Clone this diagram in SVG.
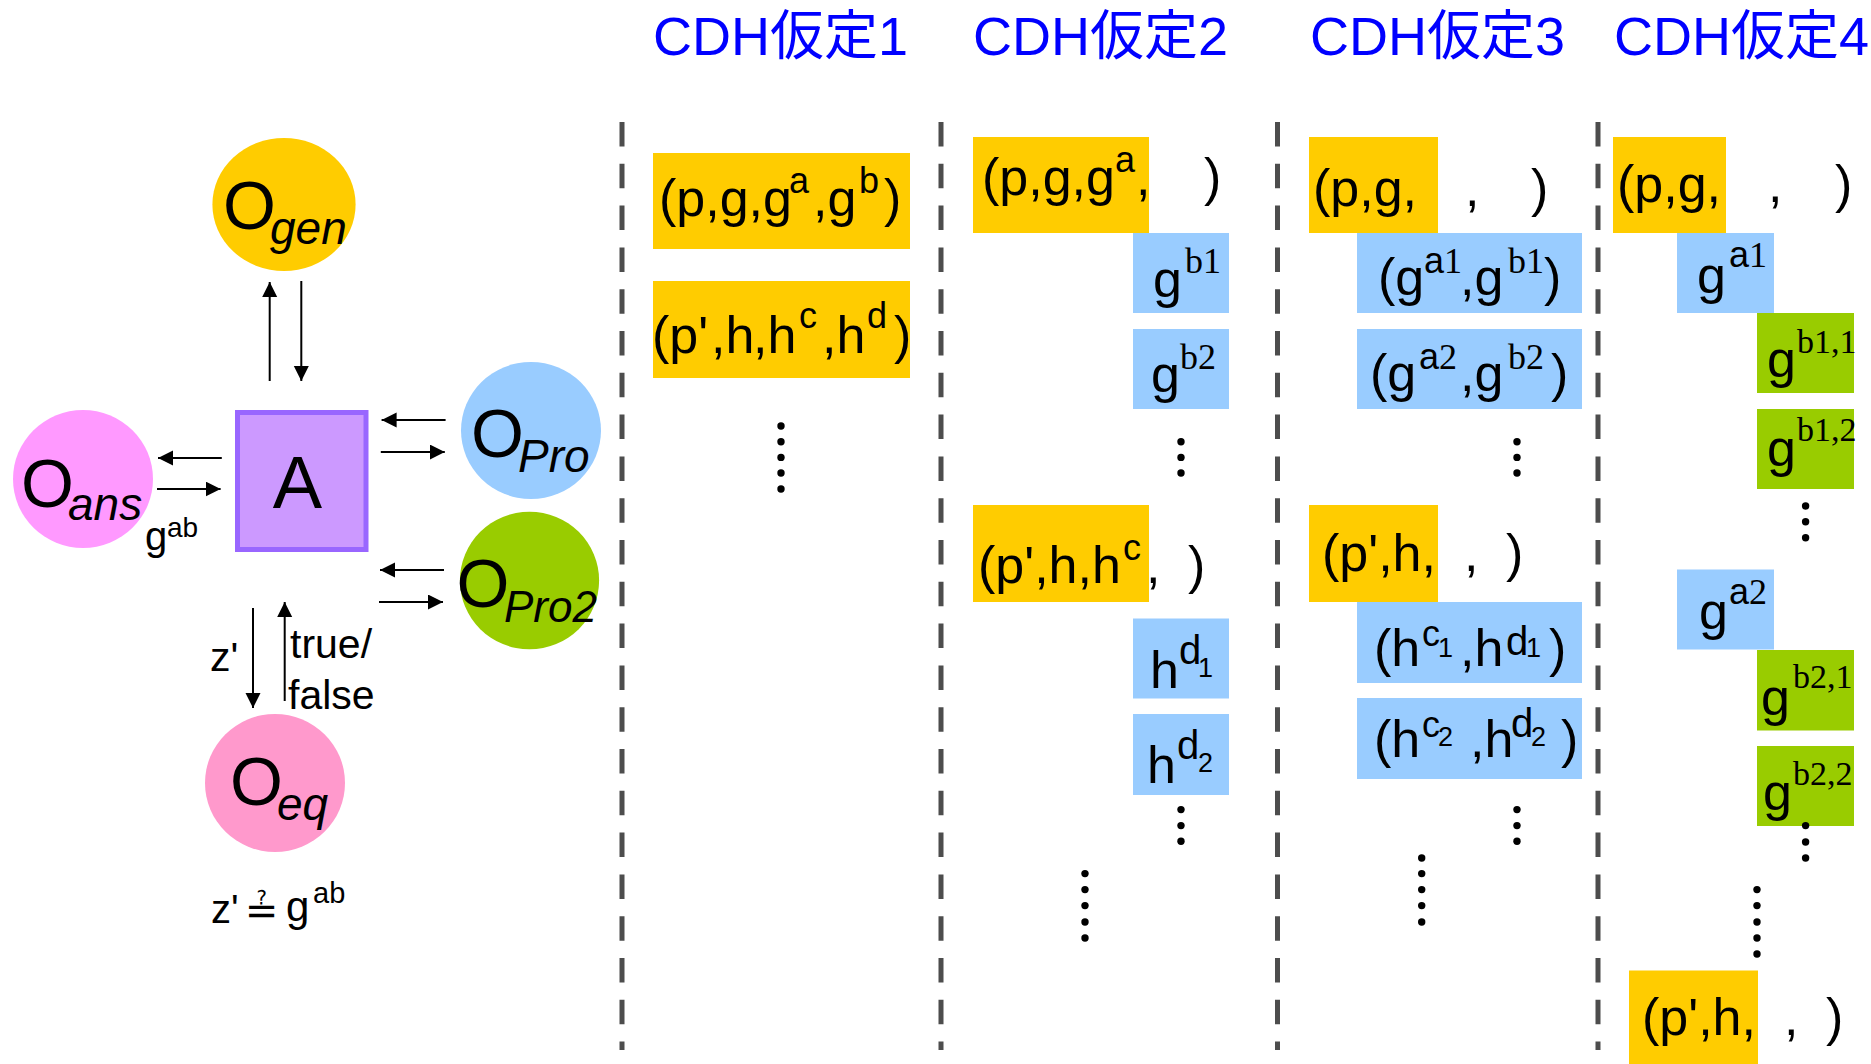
<svg xmlns="http://www.w3.org/2000/svg" width="1871" height="1064" viewBox="0 0 1871 1064">
<defs>
<style>
.t{font-family:"Liberation Sans","Noto Sans CJK JP",sans-serif;font-size:54px;fill:#0000FF}
.m{font-family:"Liberation Sans",sans-serif;font-size:52px;fill:#000}
.s{font-size:36px}
.sb{font-size:27px}
.sr{font-family:"Liberation Serif",serif;font-size:36px}
.o{font-family:"Liberation Sans",sans-serif;font-size:68px;fill:#000}
.sub{font-size:46px;font-style:italic}
.lbl{font-family:"Liberation Sans",sans-serif;font-size:41px;fill:#000}
.y{fill:#FFCC00}.b{fill:#99CCFF}.g{fill:#99CC00}
.dash{stroke:#4D4D4D;stroke-width:5;stroke-dasharray:24.5 17.3;fill:none}
.conn line{stroke:#000;stroke-width:2;marker-end:url(#ah)}
.dots circle{fill:#000}
</style>
<marker id="ah" markerWidth="16" markerHeight="16" refX="15" refY="7.5" orient="auto" markerUnits="userSpaceOnUse"><path d="M0,0 L15,7.5 L0,15 z" fill="#000"/></marker>
</defs>
<rect width="1871" height="1064" fill="#fff"/>

<g id="titles">
<text class="t" x="653" y="55">CDH仮定1</text>
<text class="t" x="973" y="55">CDH仮定2</text>
<text class="t" x="1310" y="55">CDH仮定3</text>
<text class="t" x="1614" y="55">CDH仮定4</text>
</g>

<g id="separators">
<line class="dash" x1="622" y1="122" x2="622" y2="1050"/>
<line class="dash" x1="941" y1="122" x2="941" y2="1050"/>
<line class="dash" x1="1277.5" y1="122" x2="1277.5" y2="1050"/>
<line class="dash" x1="1598" y1="122" x2="1598" y2="1050"/>
</g>

<g id="node-Ogen"><ellipse cx="284" cy="204.5" rx="71.6" ry="66.5" fill="#FFCC00"/><text class="o" x="223" y="229">O<tspan class="sub" x="270" y="244">gen</tspan></text></g>
<g id="node-A"><rect x="237.5" y="412.5" width="128.5" height="137" fill="#CC99FF" stroke="#9966FF" stroke-width="5"/><text class="o" x="297.5" y="508" text-anchor="middle" style="font-size:74px">A</text></g>
<g id="node-Oans"><ellipse cx="83" cy="479" rx="70" ry="69" fill="#FF99FF"/><text class="o" x="21" y="507">O<tspan class="sub" x="68" y="520">ans</tspan></text></g>
<g id="node-OPro"><ellipse cx="531" cy="430.5" rx="70" ry="68.5" fill="#99CCFF"/><text class="o" x="471" y="457">O<tspan class="sub" x="518" y="472">Pro</tspan></text></g>
<g id="node-OPro2"><ellipse cx="529.5" cy="580.5" rx="69.6" ry="68.8" fill="#99CC00"/><text class="o" x="456.5" y="607">O<tspan class="sub" x="504" y="622" style="font-size:44px">Pro2</tspan></text></g>
<g id="node-Oeq"><ellipse cx="275" cy="783" rx="70" ry="69" fill="#FF99CC"/><text class="o" x="230" y="805">O<tspan class="sub" x="277" y="820">eq</tspan></text></g>

<g id="labels-left">
<text class="lbl" x="145" y="550" style="font-size:40px">g<tspan x="167" y="537" style="font-size:28px">ab</tspan></text>
<text class="lbl" x="210" y="671">z'</text>
<text class="lbl" x="290" y="658">true/</text>
<text class="lbl" x="288" y="709">false</text>
<text class="lbl" y="923" style="font-size:40px"><tspan x="211">z'</tspan><tspan x="245" y="924" style="font-family:'DejaVu Sans',sans-serif;font-size:40px">≟</tspan><tspan x="286" y="921" style="font-size:42px">g</tspan><tspan x="313" y="903" style="font-size:29px">ab</tspan></text>
</g>

<g id="connectors" class="conn">
<line x1="269.7" y1="381" x2="269.7" y2="282"/>
<line x1="301.3" y1="281" x2="301.3" y2="381"/>
<line x1="445.6" y1="420" x2="381.6" y2="420"/>
<line x1="380.8" y1="452" x2="444.8" y2="452"/>
<line x1="221.8" y1="458" x2="158" y2="458"/>
<line x1="157" y1="489" x2="220.6" y2="489"/>
<line x1="444" y1="570" x2="380" y2="570"/>
<line x1="379" y1="602" x2="443" y2="602"/>
<line x1="253" y1="608" x2="253" y2="708"/>
<line x1="284.7" y1="701" x2="284.7" y2="602"/>
</g>

<g id="col1">
<g id="c1-box1"><rect class="y" x="653" y="153" width="257" height="96"/>
<text class="m" y="216"><tspan x="659">(p,g,g</tspan><tspan class="s" x="789" y="193">a</tspan><tspan x="813" y="216">,g</tspan><tspan class="s" x="859" y="193">b</tspan><tspan x="884" y="216">)</tspan></text></g>
<g id="c1-box2"><rect class="y" x="653" y="281" width="257" height="97"/>
<text class="m" y="353"><tspan x="652">(p'</tspan><tspan x="711">,h</tspan><tspan x="753">,h</tspan><tspan class="s" x="799" y="328">c</tspan><tspan x="822" y="353">,h</tspan><tspan class="s" x="867" y="328">d</tspan><tspan x="894" y="353">)</tspan></text></g>
<g class="dots"><circle cx="781" cy="426" r="3.7"/><circle cx="781" cy="441.7" r="3.7"/><circle cx="781" cy="457.4" r="3.7"/><circle cx="781" cy="473" r="3.7"/><circle cx="781" cy="489" r="3.7"/></g>
</g>

<g id="col2">
<g id="c2-y1"><rect class="y" x="973" y="137" width="176" height="96"/>
<text class="m" y="195"><tspan x="982">(p,g,g</tspan><tspan class="s" x="1115" y="172">a</tspan><tspan x="1136" y="195">,</tspan><tspan x="1204">)</tspan></text></g>
<g id="c2-b1"><rect class="b" x="1133" y="233" width="96" height="80"/>
<text class="m" x="1153" y="297">g<tspan class="sr" x="1185" y="273">b1</tspan></text></g>
<g id="c2-b2"><rect class="b" x="1133" y="329" width="96" height="80"/>
<text class="m" x="1151" y="392">g<tspan class="sr" x="1180" y="369">b2</tspan></text></g>
<g class="dots"><circle cx="1181" cy="441.7" r="3.7"/><circle cx="1181" cy="457.4" r="3.7"/><circle cx="1181" cy="473" r="3.7"/></g>
<g id="c2-y2"><rect class="y" x="973" y="505" width="176" height="97"/>
<text class="m" y="583"><tspan x="978">(p',h,h</tspan><tspan class="s" x="1123" y="560">c</tspan><tspan x="1146" y="583">,</tspan><tspan x="1188">)</tspan></text></g>
<g id="c2-b3"><rect class="b" x="1133" y="618.5" width="96" height="80"/>
<text class="m" x="1150" y="688">h<tspan x="1179" y="664" style="font-size:40px">d</tspan><tspan class="sb" x="1198" y="677">1</tspan></text></g>
<g id="c2-b4"><rect class="b" x="1133" y="714" width="96" height="81"/>
<text class="m" x="1147" y="783">h<tspan x="1177" y="759" style="font-size:40px">d</tspan><tspan class="sb" x="1198" y="772">2</tspan></text></g>
<g class="dots"><circle cx="1181" cy="809.6" r="3.7"/><circle cx="1181" cy="825.6" r="3.7"/><circle cx="1181" cy="841.2" r="3.7"/></g>
<g class="dots"><circle cx="1085" cy="873.6" r="3.7"/><circle cx="1085" cy="889.6" r="3.7"/><circle cx="1085" cy="905.6" r="3.7"/><circle cx="1085" cy="922" r="3.7"/><circle cx="1085" cy="938" r="3.7"/></g>
</g>

<g id="col3">
<g id="c3-y1"><rect class="y" x="1309" y="137" width="129" height="96"/>
<text class="m" y="206"><tspan x="1313">(p,g,</tspan><tspan x="1465">,</tspan><tspan x="1531">)</tspan></text></g>
<g id="c3-b1"><rect class="b" x="1357" y="233" width="225" height="80"/>
<text class="m" y="295"><tspan x="1378">(g</tspan><tspan class="s" x="1424" y="273">a</tspan><tspan class="sr">1</tspan><tspan x="1460" y="295">,g</tspan><tspan class="sr" x="1508" y="273">b1</tspan><tspan x="1544" y="295">)</tspan></text></g>
<g id="c3-b2"><rect class="b" x="1357" y="329" width="225" height="80"/>
<text class="m" y="391"><tspan x="1370">(g</tspan><tspan class="s" x="1419" y="369">a</tspan><tspan class="sr">2</tspan><tspan x="1460" y="391">,g</tspan><tspan class="sr" x="1508" y="369">b2</tspan><tspan x="1551" y="391">)</tspan></text></g>
<g class="dots"><circle cx="1517" cy="441.7" r="3.7"/><circle cx="1517" cy="457.4" r="3.7"/><circle cx="1517" cy="473" r="3.7"/></g>
<g id="c3-y2"><rect class="y" x="1309" y="505" width="129" height="97"/>
<text class="m" y="571"><tspan x="1322">(p',h,</tspan><tspan x="1464">,</tspan><tspan x="1506">)</tspan></text></g>
<g id="c3-b3"><rect class="b" x="1357" y="602" width="225" height="81"/>
<text class="m" y="666"><tspan x="1374">(h</tspan><tspan class="s" x="1422" y="646">c</tspan><tspan class="sb" x="1438" y="657">1</tspan><tspan x="1460" y="666">,h</tspan><tspan x="1506" y="655" style="font-size:40px">d</tspan><tspan class="sb" x="1526" y="657">1</tspan><tspan x="1549" y="666">)</tspan></text></g>
<g id="c3-b4"><rect class="b" x="1357" y="698" width="225" height="81"/>
<text class="m" y="757"><tspan x="1374">(h</tspan><tspan class="s" x="1422" y="737">c</tspan><tspan class="sb" x="1438" y="746">2</tspan><tspan x="1470" y="757">,h</tspan><tspan x="1511" y="737" style="font-size:40px">d</tspan><tspan class="sb" x="1531" y="746">2</tspan><tspan x="1561" y="757">)</tspan></text></g>
<g class="dots"><circle cx="1517" cy="809.6" r="3.7"/><circle cx="1517" cy="825.6" r="3.7"/><circle cx="1517" cy="841.2" r="3.7"/></g>
<g class="dots"><circle cx="1421.7" cy="858" r="3.7"/><circle cx="1421.7" cy="873.6" r="3.7"/><circle cx="1421.7" cy="889.6" r="3.7"/><circle cx="1421.7" cy="905.6" r="3.7"/><circle cx="1421.7" cy="922" r="3.7"/></g>
</g>

<g id="col4">
<g id="c4-y1"><rect class="y" x="1613" y="137" width="113" height="96"/>
<text class="m" y="202"><tspan x="1617">(p,g,</tspan><tspan x="1768">,</tspan><tspan x="1835">)</tspan></text></g>
<g id="c4-b1"><rect class="b" x="1677" y="233" width="97" height="80"/>
<text class="m" x="1697" y="293">g<tspan class="s" x="1729" y="267">a</tspan><tspan class="sr">1</tspan></text></g>
<g id="c4-g1"><rect class="g" x="1757" y="313" width="97" height="80"/>
<text class="m" x="1767" y="377">g<tspan class="sr" x="1797" y="353" style="font-size:34px">b1,1</tspan></text></g>
<g id="c4-g2"><rect class="g" x="1757" y="409" width="97" height="80"/>
<text class="m" x="1767" y="466">g<tspan class="sr" x="1797" y="441" style="font-size:34px">b1,2</tspan></text></g>
<g class="dots"><circle cx="1805.6" cy="506" r="3.7"/><circle cx="1805.6" cy="521.7" r="3.7"/><circle cx="1805.6" cy="537.7" r="3.7"/></g>
<g id="c4-b2"><rect class="b" x="1677" y="569.5" width="97" height="80"/>
<text class="m" x="1699" y="629">g<tspan class="s" x="1729" y="604">a</tspan><tspan class="sr">2</tspan></text></g>
<g id="c4-g3"><rect class="g" x="1757" y="650" width="97" height="80.5"/>
<text class="m" x="1761" y="715">g<tspan class="sr" x="1793" y="688" style="font-size:34px">b2,1</tspan></text></g>
<g id="c4-g4"><rect class="g" x="1757" y="746" width="97" height="80"/>
<text class="m" x="1763" y="810">g<tspan class="sr" x="1793" y="785" style="font-size:34px">b2,2</tspan></text></g>
<g class="dots"><circle cx="1805.6" cy="825.6" r="3.7"/><circle cx="1805.6" cy="842" r="3.7"/><circle cx="1805.6" cy="858" r="3.7"/></g>
<g class="dots"><circle cx="1757" cy="889.6" r="3.7"/><circle cx="1757" cy="905.6" r="3.7"/><circle cx="1757" cy="922" r="3.7"/><circle cx="1757" cy="938" r="3.7"/><circle cx="1757" cy="954" r="3.7"/></g>
<g id="c4-y2"><rect class="y" x="1629" y="970.5" width="129" height="94"/>
<text class="m" y="1035"><tspan x="1642">(p',h,</tspan><tspan x="1784">,</tspan><tspan x="1826">)</tspan></text></g>
</g>
</svg>
